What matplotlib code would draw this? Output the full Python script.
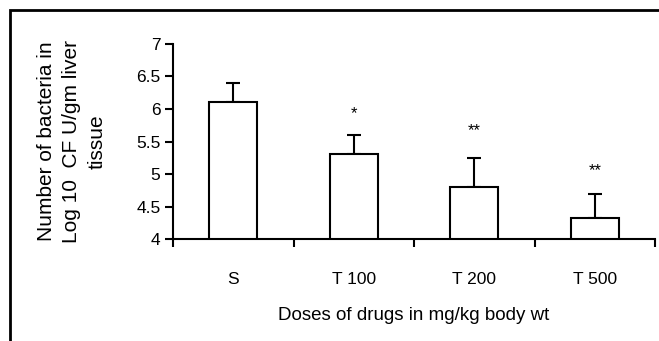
import numpy as np
import matplotlib.pyplot as plt
from matplotlib.patches import Rectangle

plt.rcParams['font.family'] = ['Liberation Sans', 'DejaVu Sans']

# data
groups = ["S", "T 100", "T 200", "T 500"]
means = [6.11, 5.31, 4.80, 4.32]
upper_err = [0.29, 0.29, 0.44, 0.37]
stars = ["", "*", "**", "**"]
star_y = [None, 5.93, 5.66, 5.05]

fig = plt.figure(figsize=(6.59, 3.41), dpi=100)
ax = fig.add_axes([0.2625, 0.299, 0.7315, 0.572])

x = np.arange(len(groups))
ax.bar(x, means, width=0.4, bottom=0, color="white", edgecolor="black", linewidth=1.5, zorder=2)
ax.errorbar(x, means, yerr=[np.zeros(len(means)), upper_err], fmt="none",
            ecolor="black", elinewidth=1.5, capsize=5, capthick=1.5, zorder=1)

for xi, s, sy in zip(x, stars, star_y):
    if s:
        ax.text(xi, sy, s, ha="center", va="center", fontsize=12)

ax.set_ylim(4, 7)
ax.set_xlim(-0.5, 3.5)
ax.set_yticks([4, 4.5, 5, 5.5, 6, 6.5, 7])
ax.set_yticklabels(["4", "4.5", "5", "5.5", "6", "6.5", "7"])
ax.set_xticks(x)
ax.set_xticklabels(groups)
ax.set_xticks([-0.5, 0.5, 1.5, 2.5, 3.5], minor=True)
ax.tick_params(axis="x", which="major", length=0, pad=24, labelsize=12.5)
ax.tick_params(axis="x", which="minor", length=6, width=1.5, direction="out")
ax.tick_params(axis="y", length=6, width=1.5, direction="out", labelsize=12.5, pad=3)

for side in ["top", "right"]:
    ax.spines[side].set_visible(False)
for side in ["left", "bottom"]:
    ax.spines[side].set_linewidth(1.5)

ax.set_xlabel("Doses of drugs in mg/kg body wt", fontsize=13.5, labelpad=14)
ax.set_ylabel("Number of bacteria in\nLog 10  CF U/gm liver\ntissue", fontsize=15,
              linespacing=1.45, va="center")
ax.yaxis.set_label_coords(-0.21, 0.5)

# outer frame of the figure panel
fig.patches.append(Rectangle((10 / 659, -0.1), 1.2, 1 - 10 / 341 + 0.1,
                             transform=fig.transFigure, fill=False,
                             edgecolor="black", linewidth=2))

fig.savefig("out.png", dpi=100)
